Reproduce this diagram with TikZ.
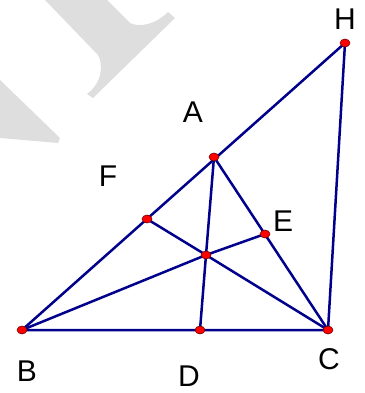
\documentclass[tikz,border=0pt]{standalone}
\usepackage{fontspec}
\setmainfont{Liberation Sans}
\usetikzlibrary{positioning}
\usetikzlibrary{shapes.geometric}

\definecolor{navyline}{RGB}{0,0,140}
\definecolor{wmgray}{RGB}{222,222,222}

\tikzset{
  seg/.style={draw=navyline, line width=2.5pt, line cap=round},
  dot/.style={ellipse, draw=black!60!red, fill=red, line width=0.5pt,
    minimum width=10pt, minimum height=8pt, inner sep=0pt},
  lbl/.style={font=\fontsize{30}{36}\selectfont, inner sep=0pt},
  wmark/.style={fill=wmgray, draw=none},
}

\begin{document}
\begin{tikzpicture}[x=1pt, y=-1pt]
    \useasboundingbox (0,0) rectangle (364,393);

    % faint background mark
    \path[wmark] (45,0) -- (98,55) .. controls (103,64) and (103,82) .. (87,94)
        -- (93,98) -- (175,18) -- (168,12) .. controls (156,24) and (140,28) .. (130,23)
        -- (107,0) -- cycle;
    \path[wmark] (0,80) -- (60,138) -- (58,143) -- (0,138) -- cycle;

    \coordinate (B) at (22,330);
    \coordinate (C) at (328,330);
    \coordinate (D) at (200,330);
    \coordinate (H) at (345,43);
    \coordinate (A) at (214,157);
    \coordinate (F) at (147,219);
    \coordinate (E) at (265,234);
    \coordinate (O) at (206,255);

    \draw[seg] (B) -- (H) -- (C) -- (B);
    \draw[seg] (A) -- (C);
    \draw[seg] (A) -- (O) -- (D);
    \draw[seg] (B) -- (O) -- (E);
    \draw[seg] (F) -- (O) -- (C);

    \foreach \p in {B,C,D,H,A,F,E,O}
        \node[dot] (\p-pt) at (\p) {};

    \node[lbl] (H-lab) at (345,19) {H};
    \node[lbl] (A-lab) at (193,112) {A};
    \node[lbl] (F-lab) at (108,176) {F};
    \node[lbl] (E-lab) at (283,221) {E};
    \node[lbl] (B-lab) at (27,371) {B};
    \node[lbl] (D-lab) at (189,376) {D};
    \node[lbl] (C-lab) at (329,359) {C};
\end{tikzpicture}
\end{document}
